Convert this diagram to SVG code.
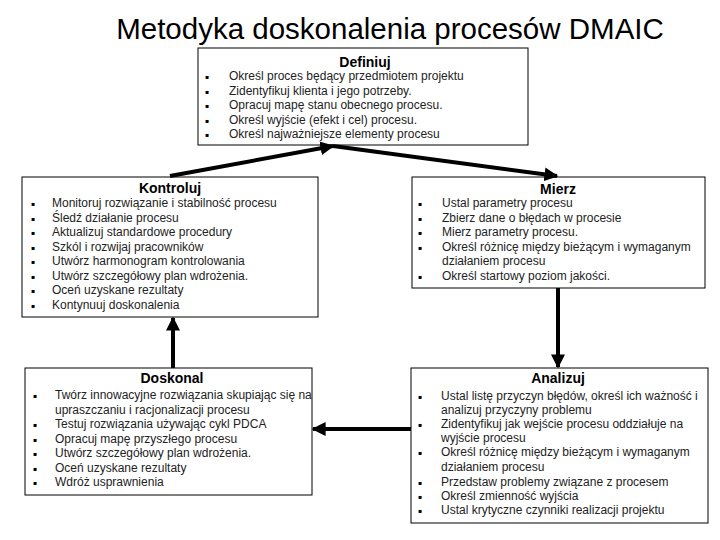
<svg xmlns="http://www.w3.org/2000/svg" width="720" height="540" viewBox="0 0 720 540">
<defs>
<style>
.box{fill:#fff;stroke:#000;stroke-width:1}
.t{font-family:"Liberation Sans",Arial,sans-serif;font-size:12px;fill:#222}
.h{font-family:"Liberation Sans",Arial,sans-serif;font-size:14px;font-weight:bold;fill:#000;text-anchor:middle}
.b{font-family:"DejaVu Sans",sans-serif;font-size:6px;fill:#000}
.ttl{font-family:"Liberation Sans",Arial,sans-serif;font-size:29.5px;fill:#000;text-anchor:middle}
.c{stroke:#000;stroke-width:4;fill:none}
</style>
<marker id="ah" viewBox="0 0 10 10" refX="9" refY="5" markerWidth="3.5" markerHeight="3.5" markerUnits="strokeWidth" orient="auto">
<path d="M0,0 L10,5 L0,10 z" fill="#000"/>
</marker>
</defs>
<rect width="720" height="540" fill="#fff"/>
<text class="ttl" x="390" y="39">Metodyka doskonalenia procesów DMAIC</text>

<g id="definiuj">
<rect class="box" x="198" y="48" width="330" height="97"/>
<text class="h" x="365" y="67">Definiuj</text>
<g class="b"><text x="205" y="79">▪</text><text x="205" y="93.5">▪</text><text x="205" y="108">▪</text><text x="205" y="122.5">▪</text><text x="205" y="137">▪</text></g>
<g class="t">
<text x="229" y="80">Określ proces będący przedmiotem projektu</text>
<text x="229" y="94.5">Zidentyfikuj klienta i jego potrzeby.</text>
<text x="229" y="109">Opracuj mapę stanu obecnego procesu.</text>
<text x="229" y="123.5">Określ wyjście (efekt i cel) procesu.</text>
<text x="229" y="138">Określ najważniejsze elementy procesu</text>
</g>
</g>

<g id="kontroluj">
<rect class="box" x="22" y="177" width="296" height="140"/>
<text class="h" x="170" y="193">Kontroluj</text>
<g class="b"><text x="31" y="206">▪</text><text x="31" y="220.5">▪</text><text x="31" y="235">▪</text><text x="31" y="249.5">▪</text><text x="31" y="264">▪</text><text x="31" y="278.5">▪</text><text x="31" y="293">▪</text><text x="31" y="307.5">▪</text></g>
<g class="t">
<text x="52" y="207">Monitoruj rozwiązanie i stabilność procesu</text>
<text x="52" y="221.5">Śledź działanie procesu</text>
<text x="52" y="236">Aktualizuj standardowe procedury</text>
<text x="52" y="250.5">Szkól i rozwijaj pracowników</text>
<text x="52" y="265">Utwórz harmonogram kontrolowania</text>
<text x="52" y="279.5">Utwórz szczegółowy plan wdrożenia.</text>
<text x="52" y="294">Oceń uzyskane rezultaty</text>
<text x="52" y="308.5">Kontynuuj doskonalenia</text>
</g>
</g>

<g id="mierz">
<rect class="box" x="412" y="177" width="293" height="111"/>
<text class="h" x="558" y="194">Mierz</text>
<g class="b"><text x="418" y="206">▪</text><text x="418" y="220.5">▪</text><text x="418" y="235">▪</text><text x="418" y="249.5">▪</text><text x="418" y="279">▪</text></g>
<g class="t">
<text x="442" y="207">Ustal parametry procesu</text>
<text x="442" y="221.5">Zbierz dane o błędach w procesie</text>
<text x="442" y="236">Mierz parametry procesu.</text>
<text x="442" y="250.5">Określ różnicę między bieżącym i wymaganym</text>
<text x="442" y="265">działaniem procesu</text>
<text x="442" y="280">Określ startowy poziom jakości.</text>
</g>
</g>

<g id="doskonal">
<rect class="box" x="25" y="368" width="287" height="127"/>
<text class="h" x="172" y="383">Doskonal</text>
<g class="b"><text x="33" y="398">▪</text><text x="33" y="427">▪</text><text x="33" y="441.5">▪</text><text x="33" y="456">▪</text><text x="33" y="470.5">▪</text><text x="33" y="485">▪</text></g>
<g class="t">
<text x="55" y="399">Twórz innowacyjne rozwiązania skupiając się na</text>
<text x="55" y="413.5">upraszczaniu i racjonalizacji procesu</text>
<text x="55" y="428">Testuj rozwiązania używając cykl PDCA</text>
<text x="55" y="442.5">Opracuj mapę przyszłego procesu</text>
<text x="55" y="457">Utwórz szczegółowy plan wdrożenia.</text>
<text x="55" y="471.5">Oceń uzyskane rezultaty</text>
<text x="55" y="486">Wdróż usprawnienia</text>
</g>
</g>

<g id="analizuj">
<rect class="box" x="411" y="368" width="297" height="155"/>
<text class="h" x="558" y="383">Analizuj</text>
<g class="b"><text x="418" y="399">▪</text><text x="418" y="427">▪</text><text x="418" y="455">▪</text><text x="418" y="485">▪</text><text x="418" y="499">▪</text><text x="418" y="513">▪</text></g>
<g class="t">
<text x="441" y="400">Ustal listę przyczyn błędów, określ ich ważność i</text>
<text x="441" y="414">analizuj przyczyny problemu</text>
<text x="441" y="428">Zidentyfikuj jak wejście procesu oddziałuje na</text>
<text x="441" y="442">wyjście procesu</text>
<text x="441" y="456">Określ różnicę między bieżącym i wymaganym</text>
<text x="441" y="471">działaniem procesu</text>
<text x="441" y="486">Przedstaw problemy związane z procesem</text>
<text x="441" y="500">Określ zmienność wyjścia</text>
<text x="441" y="514">Ustal krytyczne czynniki realizacji projektu</text>
</g>
</g>

<g id="connectors">
<line class="c" x1="170" y1="176" x2="333" y2="146" marker-end="url(#ah)"/>
<line class="c" x1="333" y1="146" x2="557" y2="176" marker-end="url(#ah)"/>
<line class="c" x1="558" y1="288" x2="558" y2="367" marker-end="url(#ah)"/>
<line class="c" x1="411" y1="429" x2="313" y2="429" marker-end="url(#ah)"/>
<line class="c" x1="173" y1="368" x2="173" y2="318" marker-end="url(#ah)"/>
</g>
</svg>
